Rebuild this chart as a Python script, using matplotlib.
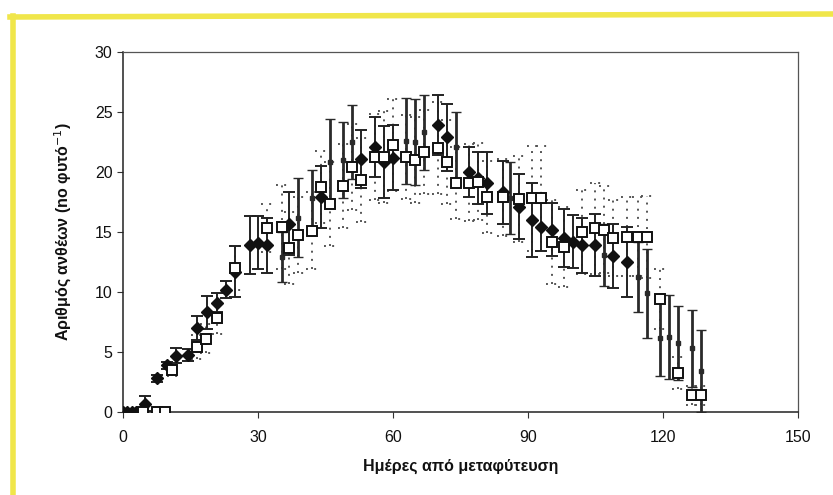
import matplotlib
matplotlib.use("Agg")
import matplotlib.pyplot as plt
from matplotlib.lines import Line2D
import numpy as np

plt.rcParams['font.family'] = ['Liberation Sans', 'DejaVu Sans']

# Series 1: filled diamonds (solid error bars)
dia_days = [0, 1, 2, 3, 5, 7.6, 9.8, 11.8, 14.5, 16.4, 18.6, 21, 23, 25, 28.2, 30, 32, 37,
            44, 53, 56, 58, 60, 70, 72, 77, 79, 81, 84.4, 88, 91, 93, 95.3, 98, 100, 102,
            105, 109, 112]
dia_vals = [0, 0, 0, 0, 0.7, 2.8, 3.9, 4.7, 4.75, 7.0, 8.3, 9.1, 10.2, 11.7, 13.9, 14.1, 13.9, 15.7,
            17.9, 21.1, 22.1, 20.8, 21.2, 23.9, 22.9, 20.0, 19.5, 19.1, 18.3, 17.1, 16.0, 15.4, 15.2, 14.5, 14.2, 13.9,
            13.9, 13.0, 12.5]
dia_err = [0, 0, 0, 0, 0.6, 0.3, 0.3, 0.6, 0.5, 1.0, 1.4, 0.8, 0.7, 2.1, 2.4, 2.2, 2.3, 2.6,
           2.6, 2.4, 2.5, 3.0, 2.7, 2.5, 2.8, 2.1, 2.2, 2.6, 2.6, 2.7, 3.1, 2.0, 2.2, 2.4, 2.2, 2.3,
           2.6, 2.7, 2.9]

# Series 2: open squares (dotted error bars)
sq_days = [4.5, 7.5, 9.3, 11, 16.4, 18.4, 21, 25, 32, 35.3, 37, 39, 42, 44, 46, 49, 51, 53, 56, 58,
           60, 63, 65, 67, 70, 72, 74, 77, 79, 81, 84.4, 88, 91, 93, 95.3, 98, 102, 105, 107, 109,
           112, 114.5, 116.5, 119.3, 123.3, 126.4, 128.4]
sq_vals = [0, 0, 0, 3.5, 5.4, 6.1, 7.8, 12.0, 15.3, 15.4, 13.7, 14.75, 15.1, 18.75, 17.3, 18.8, 20.4, 19.3, 21.25, 21.25,
           22.25, 21.25, 21.0, 21.7, 22.0, 20.8, 19.1, 19.1, 19.2, 17.9, 17.9, 17.75, 17.8, 17.8, 14.2, 13.75, 15.0, 15.3, 15.2, 14.5,
           14.6, 14.6, 14.6, 9.4, 3.25, 1.4, 1.4]
sq_err = [0, 0, 0, 0.5, 1.0, 1.2, 1.3, 1.8, 2.0, 3.5, 3.0, 3.2, 3.2, 3.0, 3.5, 3.5, 3.6, 3.5, 3.6, 3.8,
          3.8, 3.5, 3.6, 3.5, 3.8, 3.5, 3.0, 3.2, 3.2, 3.0, 3.2, 3.6, 4.4, 4.4, 3.5, 3.3, 3.5, 3.8, 3.6, 3.2,
          3.3, 3.3, 3.4, 2.5, 1.3, 0.8, 0.8]

# Series 3: small dark markers (thick solid error bars)
c_days = [35.3, 39, 42, 46, 49, 51, 63, 65, 67, 74, 86, 107, 114.5, 116.5, 119.3, 121.4, 123.3, 126.4, 128.4]
c_vals = [12.9, 16.2, 17.8, 20.8, 21.0, 22.5, 22.6, 22.5, 23.3, 22.1, 17.8, 13.1, 11.25, 9.9, 6.2, 6.25, 5.75, 5.3, 3.4]
c_err = [2.1, 3.3, 2.4, 3.6, 3.2, 3.1, 3.6, 3.6, 3.1, 2.9, 3.0, 2.6, 2.9, 3.7, 3.2, 3.5, 3.1, 3.2, 3.4]

x_ticks = [0, 30, 60, 90, 120, 150]
y_ticks = [0, 5, 10, 15, 20, 25, 30]
x_label = "Ημέρες από μεταφύτευση"
y_label = "Αριθμός ανθέων (no φυτό$^{-1}$)"

fig = plt.figure(figsize=(8.33, 4.95), dpi=100)
fig.patch.set_facecolor('white')
ax = fig.add_axes([123/833, 1-412/495, (798-123)/833, (412-52)/495])

# series 3
ax.errorbar(c_days, c_vals, yerr=c_err, fmt='s', color='#2a2a2a', ms=3.5,
            elinewidth=2.0, ecolor='#2a2a2a', capsize=3.5, capthick=1.0, zorder=3)

# series 1
ax.errorbar(dia_days, dia_vals, yerr=dia_err, fmt='D', color='#111111', ms=6.3,
            elinewidth=1.4, ecolor='#222222', capsize=4, capthick=1.4, zorder=4)

# series 2 (dotted bars)
sd = np.array(sq_days); sv = np.array(sq_vals); se = np.array(sq_err)
dot = (0, (1, 3.2))
eb = ax.errorbar(sd, sv, yerr=se, fmt='none', ecolor='#555555', elinewidth=1.4,
                 capsize=0, zorder=2)
eb.lines[2][0].set_linestyle(dot)
mask = se > 0
ax.hlines(sv[mask] + se[mask], sd[mask] - 1.3, sd[mask] + 1.3, colors='#555555',
          linestyles=dot, lw=1.4, zorder=2)
ax.hlines(sv[mask] - se[mask], sd[mask] - 1.3, sd[mask] + 1.3, colors='#555555',
          linestyles=dot, lw=1.4, zorder=2)
ax.plot(sd, sv, 's', mfc='white', mec='#111111', mew=1.4, ms=6.8, ls='none', zorder=5)

ax.set_xlim(0, 150)
ax.set_ylim(0, 30)
ax.set_xticks(x_ticks)
ax.set_yticks(y_ticks)
ax.tick_params(axis='both', labelsize=11.5, length=4, width=0.8, colors='#333333',
               labelcolor='#111111')
ax.tick_params(axis='x', pad=9)
for sp in ax.spines.values():
    sp.set_color('#555555')
    sp.set_linewidth(0.9)
for sp in ['left', 'bottom']:
    ax.spines[sp].set_color('#222222')
    ax.spines[sp].set_linewidth(1.1)
ax.set_xlabel(x_label, fontsize=11.5, fontweight='bold', labelpad=10, color='#111111')
ax.set_ylabel(y_label, fontsize=11.5, fontweight='bold', labelpad=15, color='#111111')

# yellow border of the scanned page
fig.add_artist(Line2D([10/833, 1.0], [1-17/495, 1-14/495], color='#f0e64a', lw=4,
                      transform=fig.transFigure))
fig.add_artist(Line2D([13/833, 13/833], [0, 1-16/495], color='#f0e64a', lw=4,
                      transform=fig.transFigure))

fig.savefig('out.png', dpi=100, facecolor='white')
